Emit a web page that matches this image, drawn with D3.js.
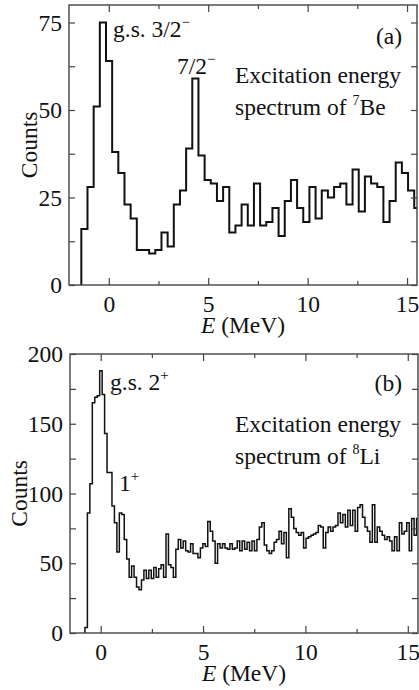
<!DOCTYPE html>
<html>
<head>
<meta charset="utf-8">
<script src="https://cdn.jsdelivr.net/npm/d3@7"></script>
<style>
  html, body { margin: 0; padding: 0; background: #fff; }
  text { font-family: "Liberation Serif", "DejaVu Serif", serif; fill: #111; }
</style>
</head>
<body>
<div id="chart"></div>
<script>
// panel (a): 7Be excitation energy histogram
const beBinStart = -1.38;
const beBinWidth = 0.31;
const beCounts = [16, 28, 51, 75, 64, 38, 32, 23, 19, 10, 10, 9, 10, 15, 11, 23, 27, 39, 59, 37,
  30, 29, 24, 28, 15, 17, 23, 17, 29, 17, 18, 22, 14, 24, 30, 22, 18, 28, 19, 27,
  25, 28, 29, 23, 33, 21, 31, 29, 28, 18, 24, 35, 32, 27, 22];
const beXTicks = [0, 5, 10, 15];
const beXMinor = [2.5, 7.5, 12.5];
const beYTicks = [0, 25, 50, 75];
const beYMinor = [12.5, 37.5, 62.5];

// panel (b): 8Li excitation energy histogram
const liBinStart = -0.77;
const liBinWidth = 0.12;
const liCounts = [4, 86, 107, 165, 169, 170, 188, 171, 143, 115, 115, 91, 79, 58, 86, 85, 67, 53, 40, 48,
  40, 33, 31, 38, 45, 39, 45, 39, 47, 40,
  46, 49, 40, 71, 49, 47, 40, 60, 67, 61, 66, 59, 58, 64, 57, 57, 54, 61, 64, 62,
  80, 73, 66, 50, 64, 61, 64, 61, 60, 64, 60, 61, 66, 59, 66, 60,
  65, 59, 66, 59, 67, 76, 79, 63, 59, 57, 59, 65, 67, 73, 64, 72, 54, 89, 83, 75,
  72, 70, 72, 61, 68, 69, 70, 71, 72, 77, 76, 61, 72, 76,
  73, 76, 77, 86, 79, 85, 76, 88, 77, 88, 73, 90, 92, 83, 76, 73, 65, 92, 65, 76,
  73, 70, 67, 69, 66, 59, 69, 59, 79, 71, 73, 79, 59, 82, 70, 82];
const liXTicks = [0, 5, 10, 15];
const liXMinor = [2.5, 7.5, 12.5];
const liYTicks = [0, 50, 100, 150, 200];
const liYMinor = [25, 75, 125, 175];

const W = 419, H = 690;
const FONT = 23.5;
const svg = d3.select('#chart').append('svg').attr('width', W).attr('height', H);

function drawPanel(p) {
  const x = d3.scaleLinear().domain(p.xDomain).range([p.left, p.right]);
  const y = d3.scaleLinear().domain(p.yDomain).range([p.bottom, p.top]);
  const g = svg.append('g');

  g.append('clipPath').attr('id', 'clip-' + p.id)
    .append('rect')
    .attr('x', p.left).attr('y', p.top)
    .attr('width', p.right - p.left).attr('height', p.bottom - p.top);

  // step outline, one point per bin edge
  const pts = [[p.binStart, 0]];
  p.counts.forEach((c, i) => pts.push([p.binStart + i * p.binWidth, c]));
  pts.push([p.binStart + p.counts.length * p.binWidth, p.counts[p.counts.length - 1]]);

  const line = d3.line().x(d => x(d[0])).y(d => y(d[1])).curve(d3.curveStepAfter);
  g.append('path')
    .attr('d', line(pts))
    .attr('fill', 'none')
    .attr('stroke', '#111')
    .attr('stroke-width', p.lineWidth)
    .attr('stroke-linejoin', 'miter')
    .attr('clip-path', `url(#clip-${p.id})`);

  // inward ticks on all four sides
  const axes = [
    { a: d3.axisBottom(x), t: `translate(0,${p.bottom})`, major: p.xTicks, minor: p.xMinor, lab: true },
    { a: d3.axisTop(x), t: `translate(0,${p.top})`, major: p.xTicks, minor: p.xMinor, lab: false },
    { a: d3.axisLeft(y), t: `translate(${p.left},0)`, major: p.yTicks, minor: p.yMinor, lab: true },
    { a: d3.axisRight(y), t: `translate(${p.right},0)`, major: p.yTicks, minor: p.yMinor, lab: false }
  ];
  axes.forEach((ax, k) => {
    const isX = k < 2;
    const big = g.append('g').attr('transform', ax.t)
      .call(ax.a.tickValues(ax.major).tickSize(isX ? -7 : -6).tickPadding(isX ? 10 : 7)
        .tickFormat(ax.lab ? d3.format('d') : () => ''));
    big.select('.domain').remove();
    big.selectAll('.tick line').attr('stroke', '#444').attr('stroke-width', 1.2);
    big.selectAll('.tick text').attr('font-size', FONT).attr('fill', '#111')
      .attr('font-family', '"Liberation Serif", serif');
    if (isX) big.selectAll('.tick text').attr('dy', '0.71em');

    const small = g.append('g').attr('transform', ax.t)
      .call(ax.a.tickValues(ax.minor).tickSize(isX ? -4 : -6).tickFormat(() => ''));
    small.select('.domain').remove();
    small.selectAll('.tick line').attr('stroke', '#444').attr('stroke-width', 1.2);
  });

  g.append('rect')
    .attr('x', p.left).attr('y', p.top)
    .attr('width', p.right - p.left).attr('height', p.bottom - p.top)
    .attr('fill', 'none').attr('stroke', '#444').attr('stroke-width', 1.4);

  // axis titles
  const xt = g.append('text')
    .attr('x', (p.left + p.right) / 2).attr('y', p.bottom + 48)
    .attr('text-anchor', 'middle').attr('font-size', FONT);
  xt.append('tspan').attr('font-style', 'italic').text('E');
  xt.append('tspan').text(' (MeV)');

  g.append('text')
    .attr('transform', `translate(${p.yTitleX},${(p.top + p.bottom) / 2}) rotate(-90)`)
    .attr('text-anchor', 'middle').attr('font-size', FONT)
    .text('Counts');

  // annotations
  g.append('text').attr('x', 402).attr('y', p.top + p.tagDy)
    .attr('text-anchor', 'end').attr('font-size', FONT).text(p.tag);
  g.append('text').attr('x', 235).attr('y', p.top + p.descDy)
    .attr('font-size', FONT).text('Excitation energy');
  const d2 = g.append('text').attr('x', 235).attr('y', p.top + p.descDy + 32).attr('font-size', FONT);
  d2.append('tspan').text('spectrum of ');
  d2.append('tspan').attr('font-size', 14).attr('dy', -10).text(p.massNum);
  d2.append('tspan').attr('dy', 10).text(p.nucleus);

  p.states.forEach(s => {
    const t = g.append('text').attr('x', s.x).attr('y', s.y).attr('font-size', FONT);
    t.append('tspan').text(s.label);
    t.append('tspan').attr('font-size', 15).attr('dy', -10).text(s.sup);
  });
}

drawPanel({
  id: 'a', left: 69, right: 417, top: 5, bottom: 285,
  xDomain: [-2, 15.5], yDomain: [0, 80],
  binStart: beBinStart, binWidth: beBinWidth, counts: beCounts, lineWidth: 2,
  xTicks: beXTicks, xMinor: beXMinor, yTicks: beYTicks, yMinor: beYMinor,
  yTitleX: 37, tag: '(a)', tagDy: 39, descDy: 78, massNum: '7', nucleus: 'Be',
  states: [
    { x: 113, y: 37, label: 'g.s. 3/2', sup: '\u2212' },
    { x: 177, y: 74, label: '7/2', sup: '\u2212' }
  ]
});

drawPanel({
  id: 'b', left: 70, right: 418, top: 354, bottom: 633,
  xDomain: [-1.5, 15.5], yDomain: [0, 200],
  binStart: liBinStart, binWidth: liBinWidth, counts: liCounts, lineWidth: 1.5,
  xTicks: liXTicks, xMinor: liXMinor, yTicks: liYTicks, yMinor: liYMinor,
  yTitleX: 27, tag: '(b)', tagDy: 37, descDy: 78, massNum: '8', nucleus: 'Li',
  states: [
    { x: 110, y: 390, label: 'g.s. 2', sup: '+' },
    { x: 119, y: 491, label: '1', sup: '+' }
  ]
});
</script>
</body>
</html>
